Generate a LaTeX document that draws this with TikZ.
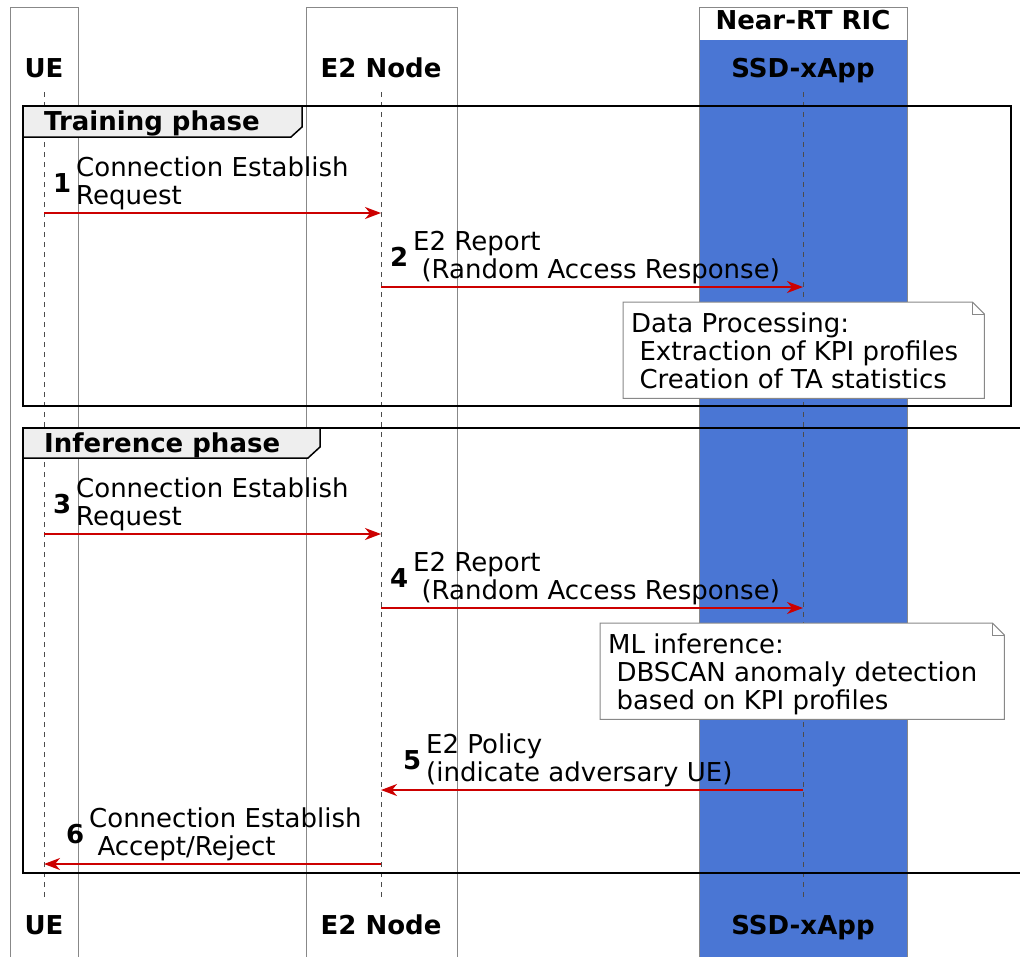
\documentclass[tikz,border=0pt]{standalone}
\usepackage{fontspec}
\setmainfont{DejaVu Sans}
\usetikzlibrary{
  arrows.meta,
  calc,
  positioning
}
\definecolor{ricblue}{RGB}{74,118,212}
\definecolor{msgred}{RGB}{204,0,0}
\definecolor{boxgray}{RGB}{136,136,136}
\definecolor{tabgray}{RGB}{238,238,238}
\tikzset{
  % For participant names above and below the lifelines.
  participant/.style={
    inner sep=0pt,
    anchor=base,
    font=\fontsize{26}{28}\selectfont\bfseries},
%
  % For the boxes round the participants.
  partbox/.style={
    draw=boxgray,
    line width=1pt},
%
  % For dashed lifelines.
  lifeline/.style={
    draw=black!70,
    line width=1pt,
    dash pattern=on 5pt off 5pt},
%
  % For the frame of a group.
  groupframe/.style={
    draw,
    line width=2pt},
%
  % For the tab in the top left corner of a group.
  grouptab/.style={
    draw,
    fill=tabgray,
    line width=1.5pt},
  grouplabel/.style={
    inner sep=0pt,
    anchor=base west,
    font=\fontsize{26}{28}\selectfont\bfseries},
%
  % For messages with one arrow.
  message/.style={
    draw=msgred,
    line width=2pt,
    -{Stealth[length=16pt, width=12pt, inset=5pt]}},
  msgnum/.style={
    inner sep=0pt,
    anchor=base west,
    font=\fontsize{26}{28}\selectfont\bfseries},
  msgtext/.style={
    inner sep=0pt,
    anchor=base west,
    align=left,
    font=\fontsize{26}{28}\selectfont},
%
  % For notes with a folded corner.
  notebg/.style={
    fill=white,
    inner sep=0pt,
    anchor=north west},
  noteline/.style={
    draw=boxgray,
    line width=1pt},
  % The base of a text with several lines is that of its last line.
  notetext/.style={
    inner sep=0pt,
    anchor=base west,
    align=left,
    font=\fontsize{26}{28}\selectfont}
}

\begin{document}
\begin{tikzpicture}[x=1pt, y=-1pt]
  \useasboundingbox (0,0) rectangle (1020,956);

  % Boxes round the participants.
  \draw[partbox] (10,7) rectangle (78,962);
  \draw[partbox] (306,7) rectangle (457,962);
  \fill[ricblue] (699,40) rectangle (907,962);
  \draw[partbox] (699,7) rectangle (907,962);
  \node[participant] (ric) at (803,29) {Near-RT RIC};

  % Participants at the top and at the bottom.
  \foreach \p/\x/\name in {ue/44/UE, e2/381/E2 Node, xapp/803/SSD-xApp}
    {\node[participant] (\p) at (\x,77) {\name};
     \node[participant] (\p-end) at (\x,934) {\name};
     \draw[lifeline] ($(\p.base)+(0,15)$) -- ($(\p-end.base)+(0,-34)$);
    }

  % Groups.
  \draw[groupframe] (23,106) rectangle (1011,406);
  \draw[grouptab] (23,106) -- (302,106) -- (302,127) -- (291,137)
    -- (23,137) -- cycle;
  \node[grouplabel] (training) at (44,130) {Training phase};

  \draw[groupframe] (23,428) rectangle (1026,873);
  \draw[grouptab] (23,428) -- (320,428) -- (320,447) -- (308,458)
    -- (23,458) -- cycle;
  \node[grouplabel] (inference) at (44,452) {Inference phase};

  % Messages; the number and the text start right of the left end.
  \foreach \i/\y/\src/\dst/\lft/\dx/\txt in {
      1/213/ue/e2/ue/9/{Connection Establish\\Request},
      2/287/e2/xapp/e2/9/{E2 Report\\\hspace*{0.32em}(Random Access Response)},
      3/534/ue/e2/ue/9/{Connection Establish\\Request},
      4/608/e2/xapp/e2/9/{E2 Report\\\hspace*{0.32em}(Random Access Response)},
      5/790/xapp/e2/e2/22/{E2 Policy\\(indicate adversary UE)},
      6/864/e2/ue/ue/22/{Connection Establish\\\hspace*{0.32em}Accept/Reject}}
    {\coordinate (m\i) at (0,\y);
     \draw[message] (\src |- m\i) -- (\dst |- m\i);
     \node[msgnum] (num\i) at ($(\lft |- m\i)+(\dx,-21)$) {\i};
     \node[msgtext] (txt\i) at ($(\lft |- m\i)+(\dx+23,-9)$) {\txt};
    }

  % Notes.
  \foreach \n/\x/\y/\w/\txt in {
      1/623/302/361/{Data Processing:\\\hspace*{0.32em}Extraction of KPI profiles\\\hspace*{0.32em}Creation of TA statistics},
      2/600/623/404/{ML inference:\\\hspace*{0.32em}DBSCAN anomaly detection\\\hspace*{0.32em}based on KPI profiles}}
    {\node[notebg, minimum width=\w pt, minimum height=96pt] (note\n) at (\x,\y) {};
     \draw[noteline] (note\n.north west) -- ($(note\n.north east)+(-12,0)$) coordinate (fold\n a)
       -- ($(note\n.north east)+(0,12)$) coordinate (fold\n b)
       -- (note\n.south east) -- (note\n.south west) -- cycle;
     \draw[noteline] (fold\n a) |- (fold\n b);
     \node[notetext] (notetext\n) at ($(note\n.north west)+(8,86)$) {\txt};
    }
\end{tikzpicture}
\end{document}
